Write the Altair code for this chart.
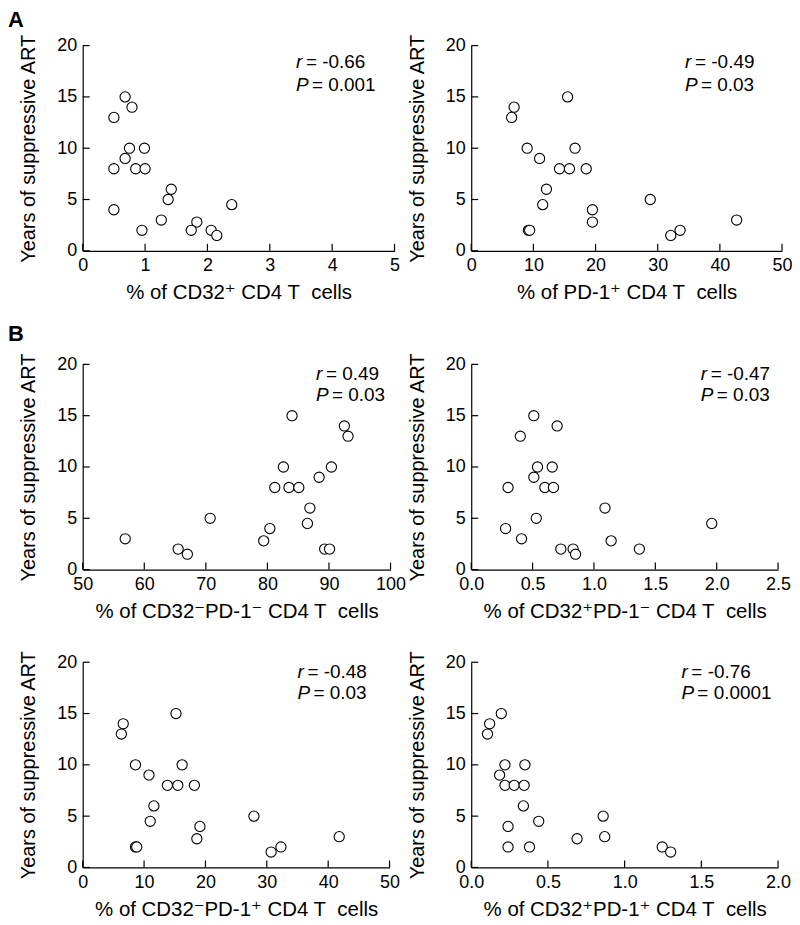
import altair as alt
import pandas as pd

YEARS = [15, 14, 13, 10, 10, 9, 8, 8, 8, 6, 5, 4.5, 4, 3, 2.8, 2, 2, 2, 1.5]

CD32 = [0.68, 0.79, 0.50, 0.75, 0.99, 0.68, 0.50, 0.85, 1.00, 1.42, 1.37, 2.39, 0.50, 1.26, 1.83, 0.95, 1.74, 2.06, 2.15]
PD1 = [15.5, 6.9, 6.5, 9.0, 16.7, 11.0, 14.2, 15.8, 18.5, 12.1, 28.8, 11.5, 19.5, 42.7, 19.5, 9.2, 9.4, 33.6, 32.1]
NEG_NEG = [84.0, 92.5, 93.1, 82.6, 90.4, 88.4, 81.2, 83.5, 85.1, 86.9, 70.7, 86.5, 80.4, 56.9, 79.4, 65.5, 89.3, 90.1, 67.0]
POS_NEG = [0.51, 0.70, 0.40, 0.54, 0.66, 0.51, 0.30, 0.60, 0.67, 1.09, 0.53, 1.96, 0.28, 0.41, 1.14, 0.73, 0.83, 1.37, 0.85]
NEG_POS = [15.2, 6.6, 6.3, 8.6, 16.2, 10.8, 13.8, 15.5, 18.2, 11.6, 27.9, 11.0, 19.1, 41.8, 18.6, 8.6, 8.8, 32.3, 30.7]
POS_POS = [0.196, 0.12, 0.106, 0.22, 0.35, 0.185, 0.22, 0.28, 0.345, 0.34, 0.86, 0.44, 0.24, 0.87, 0.69, 0.24, 0.38, 1.245, 1.30]

Y_TICKS = [0, 5, 10, 15, 20]
X_TICKS_A1 = [0, 1, 2, 3, 4, 5]
X_TICKS_50 = [0, 10, 20, 30, 40, 50]
X_TICKS_B1 = [50, 60, 70, 80, 90, 100]
X_TICKS_B2 = [0, 0.5, 1.0, 1.5, 2.0, 2.5]
X_TICKS_C2 = [0, 0.5, 1.0, 1.5, 2.0]

NB = "\u00a0\u00a0"
TITLES = [
    "% of CD32\u207a CD4 T" + NB + "cells",
    "% of PD-1\u207a CD4 T" + NB + "cells",
    "% of CD32\u207bPD-1\u207b CD4 T" + NB + "cells",
    "% of CD32\u207aPD-1\u207b CD4 T" + NB + "cells",
    "% of CD32\u207bPD-1\u207a CD4 T" + NB + "cells",
    "% of CD32\u207aPD-1\u207a CD4 T" + NB + "cells",
]
R_TEXT = ["= -0.66", "= -0.49", "= 0.49", "= -0.47", "= -0.48", "= -0.76"]
P_TEXT = ["= 0.001", "= 0.03", "= 0.03", "= 0.03", "= 0.03", "= 0.0001"]
ANN_X = [3.42, 34.4, 87.9, 1.87, 35.0, 1.37]
ANN_Y = [(17.78, 15.56), (17.78, 15.56), (18.46, 16.44), (18.46, 16.44), (18.46, 16.44), (18.46, 16.44)]
PANEL_LETTERS = ["A", "", "B", "", "", ""]
LETTER_Y = [-19, 0, -23, 0, 0, 0]
WIDTHS = [313, 312, 309, 308, 308, 308]
H = 206

FONT = "Liberation Sans, Arial, Helvetica, DejaVu Sans, sans-serif"
TICK = 7
ANN_SIZE = 19


def panel(i, xs, domain, xticks, fmt):
    W = WIDTHS[i]
    xscale = alt.Scale(domain=domain, nice=False, zero=False)
    yscale = alt.Scale(domain=[0, 20], nice=False)
    xaxis = alt.Axis(values=xticks, format=fmt, title=TITLES[i], ticks=False,
                     grid=False, labelFlush=False, labelOverlap=False)
    yaxis = alt.Axis(values=Y_TICKS, title="Years of suppressive ART", ticks=False,
                     grid=False, labelFlush=False, labelOverlap=False)
    X = lambda: alt.X("x:Q", scale=xscale, axis=xaxis)
    Y = lambda: alt.Y("y:Q", scale=yscale, axis=yaxis)

    pts = alt.Chart(pd.DataFrame({"x": xs, "y": YEARS})).mark_point(
        shape="circle", size=105, filled=False, fill="white", fillOpacity=1,
        stroke="black", strokeWidth=1.1, opacity=1
    ).encode(x=X(), y=Y())

    xt = alt.Chart(pd.DataFrame({"x": xticks})).mark_rule(
        color="black", strokeWidth=1.2
    ).encode(x=X(), y=alt.value(H), y2=alt.value(H - TICK))

    yt = alt.Chart(pd.DataFrame({"y": Y_TICKS})).mark_rule(
        color="black", strokeWidth=1.2
    ).encode(y=Y(), x=alt.value(0), x2=alt.value(TICK))

    ax = ANN_X[i]
    y1, y2 = ANN_Y[i]
    ann = pd.DataFrame({"x": [ax, ax], "y": [y1, y2], "sym": ["r", "P"],
                        "rest": [R_TEXT[i], P_TEXT[i]]})
    sym = alt.Chart(ann).mark_text(
        align="left", baseline="alphabetic", font=FONT, fontSize=ANN_SIZE,
        fontStyle="italic", color="black"
    ).encode(x=X(), y=Y(), text="sym:N")
    rest_r = alt.Chart(ann.iloc[[0]]).mark_text(
        align="left", baseline="alphabetic", font=FONT, fontSize=ANN_SIZE,
        color="black", dx=10
    ).encode(x=X(), y=Y(), text="rest:N")
    rest_p = alt.Chart(ann.iloc[[1]]).mark_text(
        align="left", baseline="alphabetic", font=FONT, fontSize=ANN_SIZE,
        color="black", dx=16
    ).encode(x=X(), y=Y(), text="rest:N")

    layers = [xt, yt, pts, sym, rest_r, rest_p]
    if PANEL_LETTERS[i]:
        letter = alt.Chart(pd.DataFrame({"t": [PANEL_LETTERS[i]]})).mark_text(
            align="left", baseline="alphabetic", font=FONT, fontSize=22,
            fontWeight="bold", color="black"
        ).encode(x=alt.value(-75), y=alt.value(LETTER_Y[i]), text="t:N")
        layers.append(letter)
    return alt.layer(*layers).properties(width=W, height=H)


p1 = panel(0, CD32, [0, 5], X_TICKS_A1, "d")
p2 = panel(1, PD1, [0, 50], X_TICKS_50, "d")
p3 = panel(2, NEG_NEG, [50, 100], X_TICKS_B1, "d")
p4 = panel(3, POS_NEG, [0, 2.5], X_TICKS_B2, ".1f")
p5 = panel(4, NEG_POS, [0, 50], X_TICKS_50, "d")
p6 = panel(5, POS_POS, [0, 2.0], X_TICKS_C2, ".1f")

row1 = alt.hconcat(p1, p2, spacing=6)
row2 = alt.hconcat(p3, p4, spacing=0)
row3 = alt.hconcat(p5, p6, spacing=6)

chart = alt.vconcat(row1, alt.vconcat(row2, row3, spacing=27), spacing=20).properties(
    padding={"top": -1, "left": 0, "right": -1, "bottom": -3}, background="white"
).configure_view(stroke=None).configure_axis(
    domainColor="black", domainWidth=1.2, labelFont=FONT, titleFont=FONT,
    labelFontSize=18, titleFontSize=20.5, labelColor="black", titleColor="black",
    titleFontWeight="normal", labelPadding=6, titlePadding=8
).configure_axisY(titlePadding=18, titleFontSize=20)

chart.save("out.html", embed_options={"renderer": "svg", "actions": False})
